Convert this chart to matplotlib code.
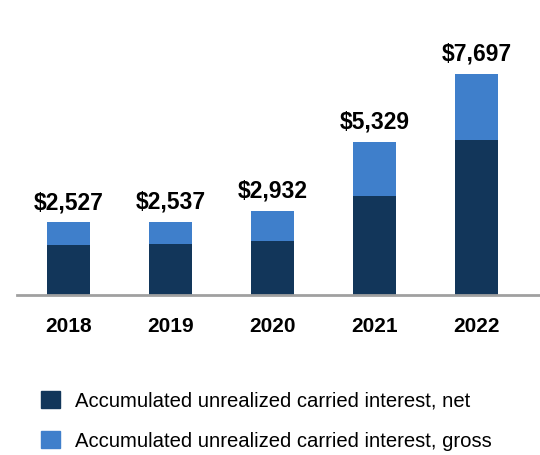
import numpy as np
import matplotlib.pyplot as plt
from matplotlib.patches import Patch

plt.rcParams['font.family'] = ['Liberation Sans', 'DejaVu Sans']

# data (USD millions)
years = ["2018", "2019", "2020", "2021", "2022"]
totals = [2527, 2537, 2932, 5329, 7697]
net = [1745, 1770, 1870, 3450, 5400]
gross_extra = [t - n for t, n in zip(totals, net)]

dark = "#12365a"
light = "#3f7fcb"

fig = plt.figure(figsize=(5.4, 4.55), dpi=100)
ax = fig.add_axes([17 / 540, 1 - 295 / 455, 1 - 17 / 540, 258.4 / 455])

x = np.arange(len(years))
ax.bar(x, net, width=0.42, color=dark, zorder=2)
ax.bar(x, gross_extra, bottom=net, width=0.42, color=light, zorder=2)

for xi, t in zip(x, totals):
    ax.annotate(f"${t:,}", (xi, t), xytext=(0, 6), textcoords="offset points",
                ha="center", va="bottom", fontsize=16.5, fontweight="bold")

ax.set_xlim(-0.507, 4.62)
ax.set_ylim(0, 9000)
ax.set_xticks(x)
ax.set_xticklabels(years, fontsize=15, fontweight="bold")
ax.tick_params(axis="x", length=0, pad=16)
ax.set_yticks([])
for s in ["top", "right", "left"]:
    ax.spines[s].set_visible(False)
ax.spines["bottom"].set_color("#a0a0a0")
ax.spines["bottom"].set_linewidth(2)

handles = [Patch(color=dark), Patch(color=light)]
labels = ["Accumulated unrealized carried interest, net",
          "Accumulated unrealized carried interest, gross"]
fig.legend(handles, labels, loc="upper left", bbox_to_anchor=(0.061, 0.158),
           frameon=False, fontsize=14.6, handlelength=0.92, handleheight=0.92,
           labelspacing=1.0, handletextpad=0.73, borderaxespad=0)

fig.savefig("out.png", dpi=100)
